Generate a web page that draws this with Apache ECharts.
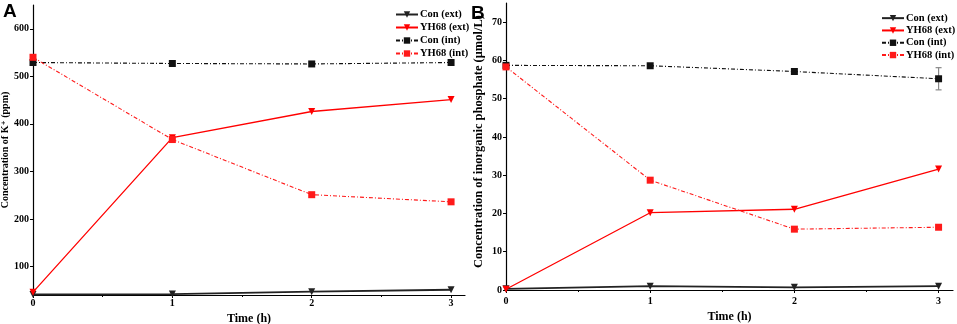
<!DOCTYPE html>
<html><head><meta charset="utf-8">
<script src="https://cdn.jsdelivr.net/npm/echarts@6/dist/echarts.min.js"></script>
<style>html,body{margin:0;padding:0;background:#fff}#c{width:957px;height:324px}</style>
</head><body><div id="c"></div>
<script>
const times = [0, 1, 2, 3];
const seriesNames = ['Con (ext)', 'YH68 (ext)', 'Con (int)', 'YH68 (int)'];
const timeTicks = [0, 1, 2, 3];
// Panel A: K+ (ppm)
const kConExt = [41, 42, 47, 51];
const kYhExt = [46, 371, 426, 451];
const kConInt = [529, 527, 526, 529];
const kYhInt = [540, 367, 251, 236];
const kTicks = [100, 200, 300, 400, 500, 600];
// Panel B: inorganic phosphate (umol/L)
const pConExt = [0.3, 1.0, 0.7, 1.0];
const pYhExt = [0.2, 20.2, 21.1, 31.6];
const pConInt = [58.7, 58.6, 57.1, 55.2];
const pYhInt = [58.3, 28.7, 15.9, 16.4];
const pConIntErr = [0, 0, 0, 2.9];
const pTicks = [0, 10, 20, 30, 40, 50, 60, 70];

const serif = '"Liberation Serif", "DejaVu Serif", serif';
const dashDot = [4, 2, 1, 2];
const styles = [
  {color: '#222', type: 'solid', symbol: 'triangle', rot: 180, width: 1.8},
  {color: '#ff0000', type: 'solid', symbol: 'triangle', rot: 180, width: 1.3},
  {color: '#111', type: dashDot, symbol: 'rect', rot: 0, width: 1.1},
  {color: '#ff1a1a', type: dashDot, symbol: 'rect', rot: 0, width: 1.1}
];
function pairs(ys) { return times.map((t, i) => [t, ys[i]]); }
function mkSeries(idx, name, ys) {
  const s = styles[idx % 4];
  return {
    type: 'line', name: name, xAxisIndex: idx < 4 ? 0 : 1, yAxisIndex: idx < 4 ? 0 : 1,
    data: pairs(ys), symbol: s.symbol, symbolRotate: s.rot, symbolSize: 7,
    lineStyle: {color: s.color, type: s.type, width: s.width},
    itemStyle: {color: s.color}, z: 3, animation: false
  };
}
const axisLbl = {fontFamily: serif, fontWeight: 'bold', fontSize: 10, color: '#000'};
function xAxis(gi, margin, gap) {
  return {
    type: 'value', gridIndex: gi, min: 0, max: 3.1, interval: 1,
    name: 'Time (h)', nameLocation: 'middle', nameGap: gap,
    nameTextStyle: {fontFamily: serif, fontWeight: 'bold', fontSize: 12, color: '#000'},
    axisLine: {lineStyle: {color: '#000', width: 1.2}},
    axisTick: {length: 3, customValues: timeTicks, lineStyle: {color: '#000'}},
    minorTick: {show: true, splitNumber: 2, length: 2, lineStyle: {color: '#000'}},
    axisLabel: Object.assign({margin: margin, customValues: timeTicks}, axisLbl),
    splitLine: {show: false}
  };
}
const option = {
  animation: false,
  grid: [
    {left: 33, top: 5, width: 432, height: 290, outerBoundsMode: 'none', containLabel: false},
    {left: 506, top: 3, width: 447, height: 287, outerBoundsMode: 'none', containLabel: false}
  ],
  xAxis: [xAxis(0, 3, 9), xAxis(1, 6, 14)],
  yAxis: [
    {
      type: 'value', gridIndex: 0, min: 40, max: 650,
      name: 'Concentration of K\u207A (ppm)', nameLocation: 'middle', nameGap: 21,
      nameTextStyle: {fontFamily: serif, fontWeight: 'bold', fontSize: 10, color: '#000'},
      axisLine: {show: true, lineStyle: {color: '#000', width: 1.2}},
      axisTick: {show: true, length: 3, customValues: kTicks, lineStyle: {color: '#000'}},
      axisLabel: Object.assign({margin: 4, customValues: kTicks}, axisLbl),
      splitLine: {show: false}
    },
    {
      type: 'value', gridIndex: 1, min: 0, max: 75, interval: 10,
      name: 'Concentration of inorganic phosphate (\u03BCmol/L)', nameLocation: 'middle', nameGap: 21,
      nameTextStyle: {fontFamily: serif, fontWeight: 'bold', fontSize: 12.5, color: '#000', padding: [0, 0, 0, 10]},
      axisLine: {show: true, lineStyle: {color: '#000', width: 1.2}},
      axisTick: {show: true, length: 3, customValues: pTicks, lineStyle: {color: '#000'}},
      axisLabel: Object.assign({margin: 4, customValues: pTicks}, axisLbl),
      splitLine: {show: false}
    }
  ],
  legend: [
    {orient: 'vertical', left: 390, top: 3, itemWidth: 22, itemHeight: 8, itemGap: 0,
     data: seriesNames,
     textStyle: {fontFamily: serif, fontWeight: 'bold', fontSize: 10.5, color: '#000', lineHeight: 13, padding: [0,0,0,-3]}},
    {orient: 'vertical', left: 876, top: 7, itemWidth: 22, itemHeight: 8, itemGap: 0,
     data: seriesNames,
     textStyle: {fontFamily: serif, fontWeight: 'bold', fontSize: 10.5, color: '#000', lineHeight: 12.3, padding: [0,0,0,-3]}}
  ],
  graphic: [
    {type: 'text', left: 3, top: 2, style: {text: 'A', font: 'bold 19px "Liberation Sans", Arial, sans-serif', fill: '#000'}},
    {type: 'text', left: 471, top: 4, z: 10, style: {text: 'B', font: 'bold 19px "Liberation Sans", Arial, sans-serif', fill: '#000'}}
  ],
  series: [
    mkSeries(0, seriesNames[0], kConExt),
    mkSeries(1, seriesNames[1], kYhExt),
    mkSeries(2, seriesNames[2], kConInt),
    mkSeries(3, seriesNames[3], kYhInt),
    mkSeries(4, seriesNames[0], pConExt),
    mkSeries(5, seriesNames[1], pYhExt),
    mkSeries(6, seriesNames[2], pConInt),
    mkSeries(7, seriesNames[3], pYhInt),
    {
      type: 'custom', xAxisIndex: 1, yAxisIndex: 1, silent: true, z: 2,
      data: times.map((t, i) => [t, pConInt[i] - pConIntErr[i], pConInt[i] + pConIntErr[i]]).filter((d, i) => pConIntErr[i] > 0),
      renderItem: function (params, api) {
        const lo = api.coord([api.value(0), api.value(1)]);
        const hi = api.coord([api.value(0), api.value(2)]);
        const st = {stroke: '#888', lineWidth: 1.2};
        return {type: 'group', children: [
          {type: 'line', shape: {x1: lo[0], y1: lo[1], x2: hi[0], y2: hi[1]}, style: st},
          {type: 'line', shape: {x1: lo[0]-3, y1: lo[1], x2: lo[0]+3, y2: lo[1]}, style: st},
          {type: 'line', shape: {x1: hi[0]-3, y1: hi[1], x2: hi[0]+3, y2: hi[1]}, style: st}
        ]};
      }
    }
  ]
};
const chart = echarts.init(document.getElementById('c'), null, {renderer: 'canvas'});
chart.setOption(option);
</script></body></html>
